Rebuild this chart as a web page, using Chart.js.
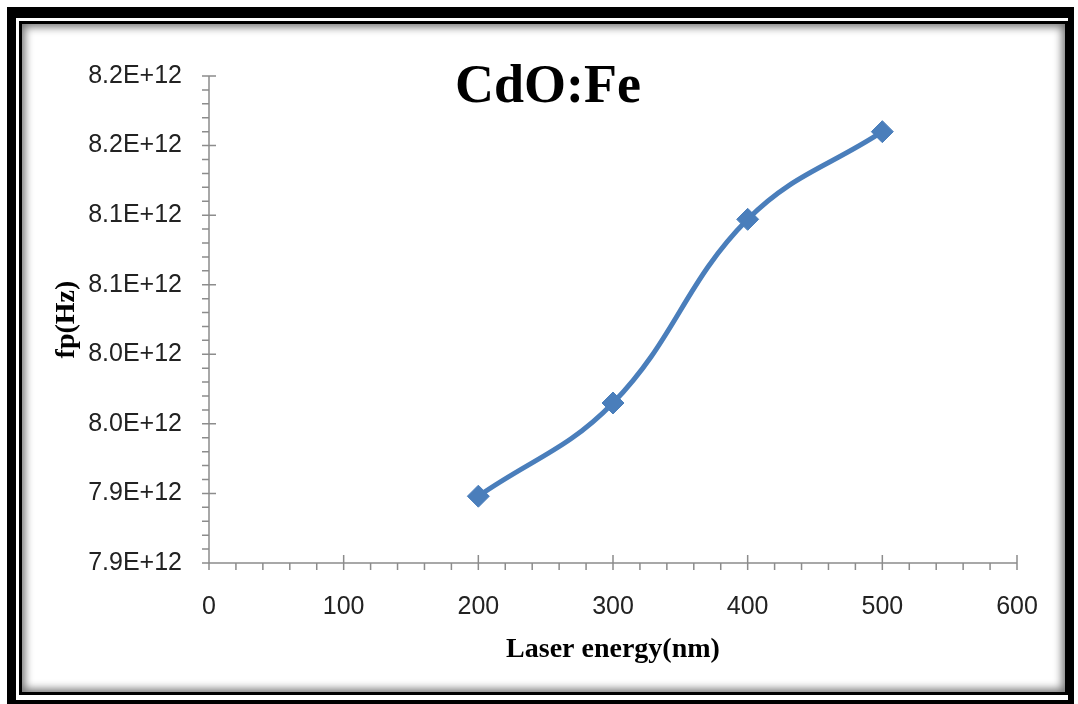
<!DOCTYPE html>
<html>
<head>
<meta charset="utf-8">
<script src="https://cdn.jsdelivr.net/npm/chart.js@4"></script>
<style>
  html, body { margin: 0; padding: 0; background: #fff; overflow: hidden; }
  #outer { position: absolute; left: 7px; top: 7px; width: 1067px; height: 710px; background: #000; }
  #gap { position: absolute; left: 16px; top: 18px; width: 1052px; height: 682px; background: #fff; }
  #inner { position: absolute; left: 19px; top: 21px; width: 1049px; height: 674px; background: #fff;
           box-sizing: border-box; border: 3px solid #000; box-shadow: inset 0 0 9px 3px rgba(0,0,0,0.55); }
  #wrap { position: absolute; left: 0; top: 0; width: 1078px; height: 704px; }
</style>
</head>
<body>
<div id="outer"></div>
<div id="gap"></div>
<div id="inner"></div>
<div id="wrap"><canvas id="fpChart" width="1078" height="704"></canvas></div>
<script>
// laser energy (nm) and plasma frequency (Hz)
const energies = [200, 300, 400, 500];
const fpValues = [7.898e12, 7.965e12, 8.097e12, 8.160e12];
const yTickValues = [7.85e12, 7.90e12, 7.95e12, 8.00e12, 8.05e12, 8.10e12, 8.15e12, 8.20e12];
const yTickLabels = ['7.9E+12', '7.9E+12', '8.0E+12', '8.0E+12', '8.1E+12', '8.1E+12', '8.2E+12', '8.2E+12'];
const xTickValues = [0, 100, 200, 300, 400, 500, 600];

const LEFT = 209, TOP = 76, RIGHT = 1017, BOTTOM = 563;

// draws the axis lines with major (crossing) and minor (outside) ticks, plus the title
const axesPlugin = {
  id: 'excelAxes',
  beforeDatasetsDraw(chart) {
    const ctx = chart.ctx;
    const xs = chart.scales.x, ys = chart.scales.y;
    const x0 = xs.getPixelForValue(0), x1 = xs.getPixelForValue(600);
    const y0 = ys.getPixelForValue(yTickValues[0]);
    const y1 = ys.getPixelForValue(yTickValues[yTickValues.length - 1]);
    ctx.save();
    ctx.strokeStyle = '#8c8c8c';
    ctx.lineWidth = 1.5;
    ctx.beginPath();
    ctx.moveTo(x0, y1); ctx.lineTo(x0, y0);
    ctx.moveTo(x0, y0); ctx.lineTo(x1, y0);
    // y ticks
    for (let i = 0; i < yTickValues.length; i++) {
      const py = ys.getPixelForValue(yTickValues[i]);
      ctx.moveTo(x0 - 7, py); ctx.lineTo(x0 + 7, py);
      if (i < yTickValues.length - 1) {
        const step = (yTickValues[i + 1] - yTickValues[i]) / 5;
        for (let k = 1; k < 5; k++) {
          const my = ys.getPixelForValue(yTickValues[i] + step * k);
          ctx.moveTo(x0 - 7, my); ctx.lineTo(x0, my);
        }
      }
    }
    // x ticks
    for (let i = 0; i < xTickValues.length; i++) {
      const px = xs.getPixelForValue(xTickValues[i]);
      ctx.moveTo(px, y0 - 8); ctx.lineTo(px, y0 + 7);
      if (i < xTickValues.length - 1) {
        const step = (xTickValues[i + 1] - xTickValues[i]) / 5;
        for (let k = 1; k < 5; k++) {
          const mx = xs.getPixelForValue(xTickValues[i] + step * k);
          ctx.moveTo(mx, y0); ctx.lineTo(mx, y0 + 7);
        }
      }
    }
    ctx.stroke();
    ctx.restore();
  },
  afterDraw(chart) {
    const ctx = chart.ctx;
    ctx.save();
    ctx.font = 'bold 54px "Liberation Serif", "Times New Roman", serif';
    ctx.fillStyle = '#000';
    ctx.textAlign = 'center';
    ctx.textBaseline = 'alphabetic';
    ctx.fillText('CdO:Fe', 548, 102);
    ctx.restore();
  }
};

const ctx = document.getElementById('fpChart').getContext('2d');
const fpChart = new Chart(ctx, {
  type: 'line',
  data: {
    datasets: [{
      label: 'fp(Hz)',
      data: energies.map((e, i) => ({ x: e, y: fpValues[i] })),
      borderColor: '#4a7ebb',
      backgroundColor: '#4a7ebb',
      borderWidth: 5,
      tension: 0.4,
      pointStyle: 'rectRot',
      pointRadius: 11,
      pointBorderWidth: 1,
      pointBackgroundColor: '#4a7ebb',
      pointBorderColor: '#4a7ebb',
      fill: false
    }]
  },
  options: {
    responsive: false,
    animation: false,
    layout: {
      padding: { left: 50, top: TOP, right: 1078 - RIGHT, bottom: 30 }
    },
    scales: {
      x: {
        type: 'linear',
        min: 0,
        max: 600,
        afterBuildTicks: (scale) => { scale.ticks = xTickValues.map(v => ({ value: v })); },
        afterFit: (scale) => { scale.height = 704 - 30 - BOTTOM; },
        grid: { display: false, drawTicks: false },
        border: { display: false },
        ticks: {
          padding: 29,
          color: '#222',
          font: { family: '"Liberation Sans", Arial, sans-serif', size: 25 },
          callback: (v) => String(v)
        },
        title: {
          display: true,
          text: 'Laser energy(nm)',
          color: '#000',
          padding: { top: 0, bottom: 7 },
          font: { family: '"Liberation Serif", "Times New Roman", serif', size: 28, weight: 'bold' }
        }
      },
      y: {
        type: 'linear',
        min: yTickValues[0],
        max: yTickValues[yTickValues.length - 1],
        afterBuildTicks: (scale) => { scale.ticks = yTickValues.map(v => ({ value: v })); },
        afterFit: (scale) => { scale.width = LEFT - 50; },
        grid: { display: false, drawTicks: false },
        border: { display: false },
        ticks: {
          padding: 27,
          color: '#222',
          font: { family: '"Liberation Sans", Arial, sans-serif', size: 25 },
          callback: (v, i) => yTickLabels[i]
        },
        title: {
          display: true,
          text: 'fp(Hz)',
          color: '#000',
          padding: { top: 0, bottom: 0 },
          font: { family: '"Liberation Serif", "Times New Roman", serif', size: 28, weight: 'bold' }
        }
      }
    },
    plugins: {
      legend: { display: false },
      title: { display: false },
      tooltip: { enabled: false }
    }
  },
  plugins: [axesPlugin]
});
</script>
</body>
</html>
